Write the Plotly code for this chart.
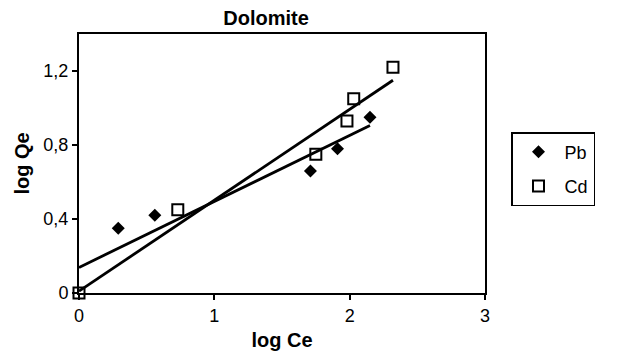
import plotly.graph_objects as go

# Data
pb_x = [0.29, 0.56, 1.71, 1.91, 2.15]
pb_y = [0.35, 0.42, 0.66, 0.78, 0.95]
cd_x = [0.0, 0.73, 1.75, 1.98, 2.03, 2.32]
cd_y = [0.0, 0.45, 0.75, 0.93, 1.05, 1.22]

# Linear trend lines (end points)
pb_fit_x = [0.0, 2.15]
pb_fit_y = [0.138, 0.905]
cd_fit_x = [0.0, 2.32]
cd_fit_y = [0.01, 1.15]

x_ticks = [0, 1, 2, 3]
y_ticks = [0, 0.4, 0.8, 1.2]
y_tick_labels = ["0", "0,4", "0,8", "1,2"]

FONT = "Liberation Sans, Arial, sans-serif"

fig = go.Figure()
fig.add_trace(go.Scatter(x=pb_fit_x, y=pb_fit_y, mode="lines",
                         line=dict(color="black", width=2.8),
                         showlegend=False, hoverinfo="skip"))
fig.add_trace(go.Scatter(x=cd_fit_x, y=cd_fit_y, mode="lines",
                         line=dict(color="black", width=2.8),
                         showlegend=False, hoverinfo="skip"))
fig.add_trace(go.Scatter(x=pb_x, y=pb_y, mode="markers", name="Pb",
                         legendgroup="pb", cliponaxis=False,
                         marker=dict(symbol="diamond", size=10, color="black",
                                     line=dict(width=0))))
fig.add_trace(go.Scatter(x=cd_x, y=cd_y, mode="markers", name="Cd",
                         legendgroup="cd", cliponaxis=False,
                         marker=dict(symbol="square-open", size=11, color="black",
                                     line=dict(width=2, color="black"))))

fig.update_layout(
    width=626, height=353,
    margin=dict(l=79, r=141, t=34, b=60),
    paper_bgcolor="white", plot_bgcolor="white",
    font=dict(family=FONT, size=18, color="black"),
    title=dict(text="<b>Dolomite</b>", x=266/626, xanchor="center",
               y=1 - 18/353, yanchor="middle",
               font=dict(family=FONT, size=20, color="black")),
    legend=dict(x=(511 - 79) / 406, xanchor="left",
                y=(293 - 132) / 259, yanchor="top",
                bordercolor="black", borderwidth=1.5,
                bgcolor="white", tracegroupgap=8, itemwidth=42,
                font=dict(family=FONT, size=18, color="black")),
)
fig.update_xaxes(range=[0, 3], tickvals=x_ticks, ticktext=[str(v) for v in x_ticks],
                 showgrid=False, zeroline=False, automargin=False,
                 showline=True, linecolor="black", linewidth=2, mirror=True,
                 ticks="outside", ticklen=5, tickwidth=1.5, tickcolor="black",
                 tickfont=dict(family=FONT, size=18, color="black"),
                 title=dict(text="<b>log Ce</b>", standoff=8,
                            font=dict(family=FONT, size=20, color="black")))
fig.update_yaxes(range=[0, 1.4], tickvals=y_ticks, ticktext=y_tick_labels,
                 showgrid=False, zeroline=False, automargin=False,
                 showline=True, linecolor="black", linewidth=2, mirror=True,
                 ticks="outside", ticklen=5, tickwidth=1.5, tickcolor="black",
                 tickfont=dict(family=FONT, size=18, color="black"),
                 title=dict(text="<b>log Qe</b>", standoff=8,
                            font=dict(family=FONT, size=20, color="black")))

fig.write_html("out.html")
